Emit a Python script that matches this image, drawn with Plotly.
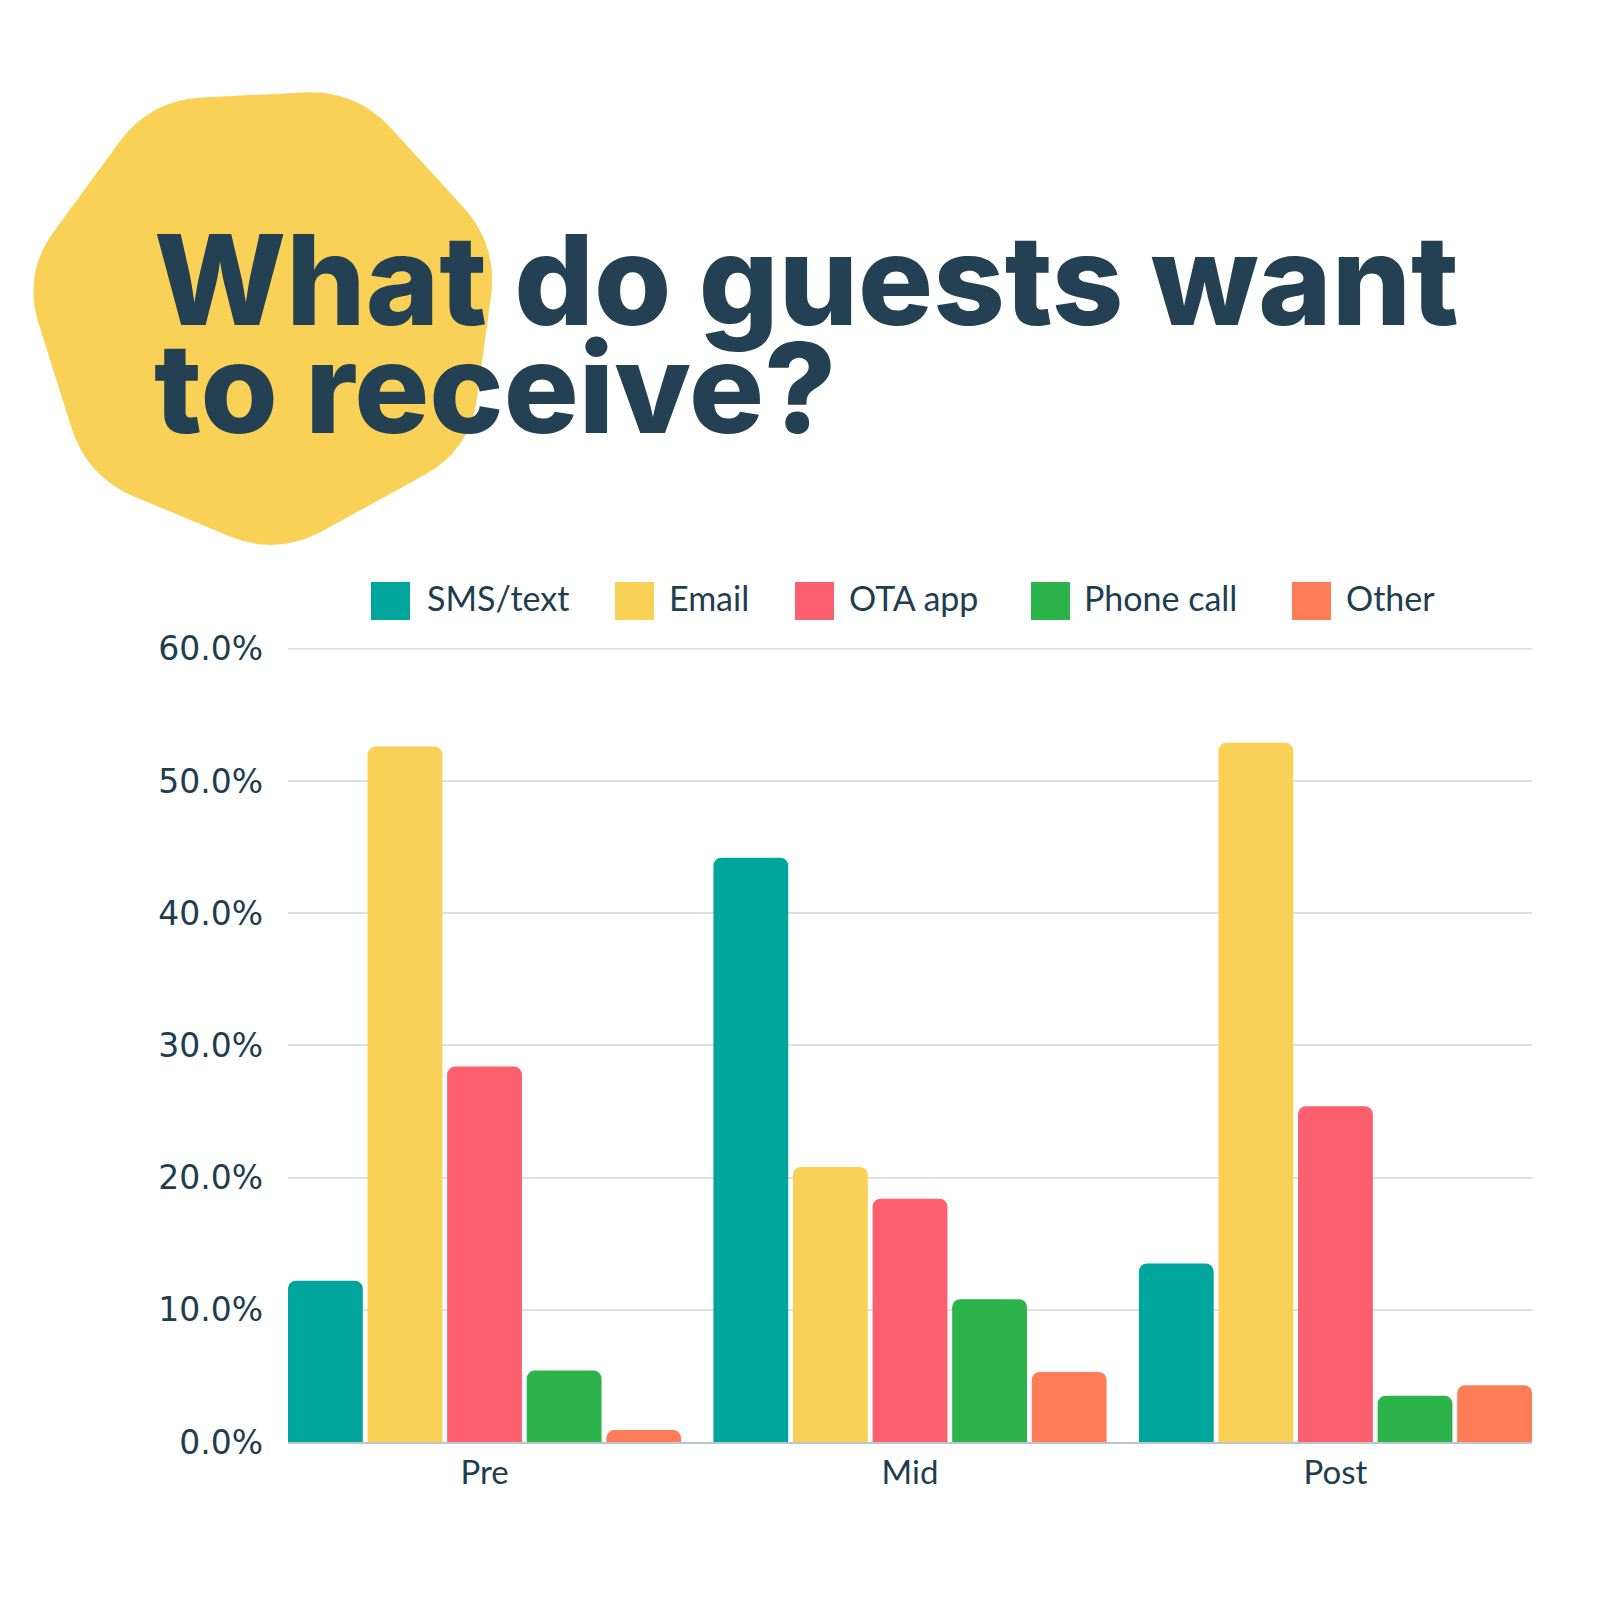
import math
import plotly.graph_objects as go

# ---------------- data ----------------
stages = ["Pre", "Mid", "Post"]
series_names = ["SMS/text", "Email", "OTA app", "Phone call", "Other"]
sms_text = [12.2, 44.2, 13.5]
email = [52.6, 20.8, 52.9]
ota_app = [28.4, 18.4, 25.4]
phone_call = [5.4, 10.8, 3.5]
other = [0.9, 5.3, 4.3]
y_ticks = [0, 10, 20, 30, 40, 50, 60]
title_line1 = "What do guests want"
title_line2 = "to receive?"

series_values = [sms_text, email, ota_app, phone_call, other]
colors = ["#00A69B", "#F9D157", "#FC606E", "#2CB34A", "#FE7D57"]
TEXT = "#1E3D4F"
TITLE = "#234152"
GRID = "#DCE1E6"

W, H = 1600, 1600
OFF = 8  # page body margin offset
L, R, T, B = 288 - OFF, 76, 648 - OFF, 166
PW = W - L - R
PH = H - T - B


def px2x(px):
    return (px - OFF - L) / PW


def py2y(py):
    return (H - B - (py - OFF)) / PH


fig = go.Figure()
for name, vals, col in zip(series_names, series_values, colors):
    fig.add_trace(go.Bar(
        x=stages, y=vals, name=name,
        marker=dict(color=col, line=dict(width=0)),
        showlegend=False,
        hovertemplate="%{x}: %{y:.1f}%<extra>" + name + "</extra>",
    ))

# ---------------- decorative blob behind title ----------------
corners = [(150, 100), (356, 90), (498, 245), (470, 450), (277, 556), (87, 477), (23, 274)]
rad = 52
parts = []
n = len(corners)
for i, (cx, cy) in enumerate(corners):
    px_, py_ = corners[i - 1]
    nx_, ny_ = corners[(i + 1) % n]
    d1 = math.hypot(px_ - cx, py_ - cy)
    d2 = math.hypot(nx_ - cx, ny_ - cy)
    ax, ay = cx + rad * (px_ - cx) / d1, cy + rad * (py_ - cy) / d1
    bx, by = cx + rad * (nx_ - cx) / d2, cy + rad * (ny_ - cy) / d2
    parts.append(("M" if i == 0 else "L") + f" {px2x(ax):.5f},{py2y(ay):.5f}")
    parts.append(f"Q {px2x(cx):.5f},{py2y(cy):.5f} {px2x(bx):.5f},{py2y(by):.5f}")
parts.append("Z")
shapes = [dict(type="path", path=" ".join(parts), xref="paper", yref="paper",
               fillcolor="#F8D156", line=dict(width=0), layer="below")]

# top gridline at the upper edge of the axis range
shapes.append(dict(type="line", xref="paper", yref="y", x0=0, x1=1,
                   y0=y_ticks[-1], y1=y_ticks[-1],
                   line=dict(color=GRID, width=2), layer="below"))

annotations = []
# title
for txt, cy in [(title_line1, 279), (title_line2, 388)]:
    annotations.append(dict(
        text=txt, x=px2x(152), y=py2y(cy), xref="paper", yref="paper",
        xanchor="left", yanchor="middle", showarrow=False,
        font=dict(family="Inter", size=125, color=TITLE, weight=800),
    ))

# legend (drawn manually to match the large swatches)
leg_sq_x = [371, 615, 795, 1031, 1292]
leg_txt_x = [428, 670, 850, 1085, 1347]
sq_top, sq_bot, leg_cy = 582, 620, 597
for name, col, sx, tx in zip(series_names, colors, leg_sq_x, leg_txt_x):
    shapes.append(dict(type="rect", xref="paper", yref="paper",
                       x0=px2x(sx), x1=px2x(sx + 39), y0=py2y(sq_bot), y1=py2y(sq_top),
                       fillcolor=col, line=dict(width=0), layer="above"))
    annotations.append(dict(
        text=name, x=px2x(tx - 3), y=py2y(leg_cy), xref="paper", yref="paper",
        xanchor="left", yanchor="middle", showarrow=False,
        font=dict(family="Lato", size=34, color=TEXT),
    ))

fig.update_layout(
    width=W, height=H,
    margin=dict(l=L, r=R, t=T, b=B, pad=0),
    paper_bgcolor="white", plot_bgcolor="white",
    barmode="group", bargap=0.0647, bargroupgap=0.06,
    barcornerradius=8,
    shapes=shapes, annotations=annotations,
    showlegend=False,
    xaxis=dict(
        range=[-0.462, 2.462], showgrid=False, zeroline=False,
        showline=True, linecolor="#BCC5CC", linewidth=2,
        ticks="", ticklabelstandoff=0,
        tickfont=dict(family="Lato", size=33, color=TEXT),
        fixedrange=True,
    ),
    yaxis=dict(
        range=[0, 60.06], tickvals=y_ticks,
        ticktext=[f"{v:.1f}%" for v in y_ticks],
        showgrid=True, gridcolor=GRID, gridwidth=2,
        zeroline=False, showline=False,
        ticks="", ticklabelstandoff=24,
        tickfont=dict(family="DejaVu Sans", size=33, color=TEXT),
        fixedrange=True,
    ),
    font=dict(family="Lato", color=TEXT),
)

fig.write_html("out.html")
